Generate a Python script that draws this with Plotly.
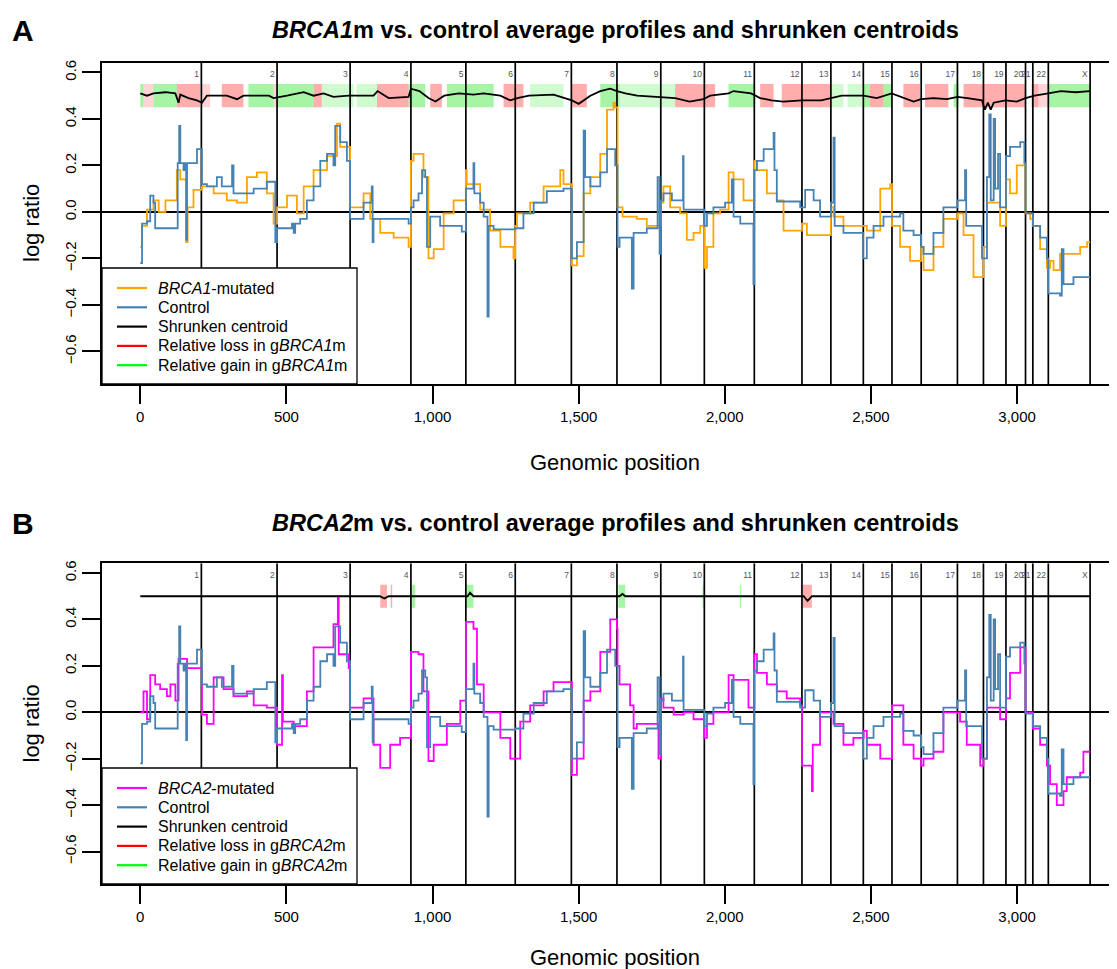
import plotly.graph_objects as go

# ---------------- data ----------------
chrom_names = [str(i) for i in range(1, 23)] + ["X"]
chrom_ends = [209, 468, 718, 926, 1114, 1283, 1475, 1631, 1781, 1930, 2101, 2264,
              2363, 2474, 2572, 2672, 2796, 2885, 2962, 3029, 3054, 3107, 3250]

x_ticks = [0, 500, 1000, 1500, 2000, 2500, 3000]
y_ticks = [-0.6, -0.4, -0.2, 0.0, 0.2, 0.4, 0.6]

ctrl_x = [0, 6, 23, 34, 45, 51, 125, 128, 133, 137, 148, 154, 157, 160, 194, 205, 211, 228, 262, 279,
          314, 319, 388, 433, 456, 462, 468, 519, 525, 530, 547, 570, 593, 616, 639, 661, 667, 684, 707,
          718, 764, 792, 795, 798, 912, 918, 926, 935, 952, 964, 975, 981, 992, 1026, 1100, 1114, 1140,
          1143, 1163, 1175, 1188, 1192, 1209, 1283, 1311, 1346, 1391, 1448, 1477, 1494, 1517, 1522, 1540,
          1574, 1597, 1625, 1633, 1640, 1682, 1688, 1733, 1770, 1777, 1781, 1790, 1819, 1857, 1859, 1930,
          1939, 1961, 2001, 2024, 2030, 2053, 2098, 2101, 2110, 2133, 2167, 2170, 2178, 2258, 2275, 2304,
          2326, 2363, 2372, 2376, 2406, 2473, 2486, 2509, 2543, 2600, 2611, 2646, 2672, 2680, 2714, 2748,
          2796, 2822, 2826, 2874, 2880, 2897, 2905, 2910, 2920, 2925, 2935, 2942, 2962, 2976, 3011, 3025,
          3029, 3054, 3079, 3102, 3107, 3147, 3153, 3159, 3193, 3250]
ctrl_y = [-0.22, -0.05, -0.04, 0.07, 0.04, -0.07, -0.07, 0.21, 0.37, 0.21, 0.18, 0.21, -0.12, 0.21,
          0.27, 0.27, 0.12, 0.11, 0.15, 0.11, 0.20, 0.08, 0.10, 0.13, 0.13, -0.13, -0.07, -0.05, -0.09,
          -0.05, -0.03, 0.05, 0.11, 0.22, 0.25, 0.20, 0.37, 0.30, 0.22, -0.03, 0.04, 0.11, -0.13, -0.03,
          -0.03, -0.05, 0.02, 0.05, 0.08, 0.18, 0.15, -0.15, -0.02, -0.06, -0.085, 0.10, 0.21, 0.08, 0.04,
          -0.02, -0.45, -0.06, -0.075, -0.07, -0.006, 0.04, 0.09, 0.10, -0.20, -0.13, 0.35, 0.15, 0.11,
          0.17, 0.27, 0.20, -0.15, -0.11, -0.33, -0.09, -0.07, 0.15, -0.18, 0.05, 0.08, 0.05, 0.24, 0.01,
          -0.06, -0.006, 0.02, 0.04, 0.14, -0.02, -0.05, -0.31, 0.18, 0.22, 0.27, 0.34, 0.18, 0.045, 0.02,
          0.095, 0.05, -0.02, 0.04, 0.32, -0.06, -0.09, -0.20, -0.11, -0.06, -0.02, -0.006, -0.08, -0.10,
          -0.15, -0.18, -0.09, 0.02, 0.05, 0.18, -0.06, -0.06, -0.20, 0.15, 0.42, 0.05, 0.40, 0.10, 0.25,
          0.02, 0.24, 0.28, 0.30, 0.21, -0.006, -0.06, -0.11, -0.20, -0.35, -0.36, -0.16, -0.31, -0.28,
          -0.28]

brca1_x = [0, 6, 23, 45, 63, 86, 125, 137, 157, 162, 182, 211, 251, 296, 331, 365, 399, 433, 456, 468,
           502, 536, 559, 593, 639, 673, 684, 718, 764, 787, 821, 867, 918, 926, 935, 969, 986, 1004,
           1038, 1072, 1114, 1117, 1163, 1197, 1232, 1277, 1283, 1289, 1334, 1380, 1437, 1448, 1477, 1494,
           1517, 1540, 1574, 1597, 1619, 1625, 1633, 1650, 1699, 1733, 1781, 1790, 1813, 1847, 1870, 1893,
           1916, 1930, 1939, 1961, 1984, 2013, 2030, 2064, 2098, 2101, 2110, 2144, 2178, 2201, 2264, 2281,
           2326, 2363, 2372, 2406, 2473, 2486, 2532, 2566, 2572, 2600, 2634, 2672, 2680, 2714, 2748, 2796,
           2817, 2851, 2885, 2897, 2942, 2962, 2976, 2999, 3029, 3045, 3054, 3079, 3102, 3113, 3125, 3147,
           3216, 3240, 3250]
brca1_y = [-0.15, -0.06, 0.01, 0.05, 0.0, 0.05, 0.18, 0.14, -0.13, 0.02, 0.095, 0.11, 0.08, 0.05, 0.04,
           0.15, 0.17, 0.08, -0.05, 0.02, 0.07, -0.006, 0.11, 0.18, 0.24, 0.38, 0.28, 0.02, 0.08, -0.03,
           -0.09, -0.11, -0.15, 0.22, 0.25, 0.15, -0.20, -0.16, -0.006, 0.05, 0.18, 0.12, 0.01, -0.08,
           -0.15, -0.20, -0.06, -0.006, 0.04, 0.11, 0.18, 0.12, -0.23, -0.19, 0.08, 0.15, 0.25, 0.44, 0.47,
           0.45, 0.02, -0.02, -0.03, -0.06, 0.04, 0.11, 0.02, -0.006, -0.12, -0.09, -0.06, -0.24, -0.15,
           -0.006, 0.01, 0.17, 0.14, 0.05, 0.05, 0.22, 0.18, 0.08, 0.05, -0.08, -0.05, -0.10, -0.10, 0.02,
           -0.02, -0.06, -0.06, -0.08, 0.10, 0.12, -0.06, -0.15, -0.21, -0.15, -0.25, -0.15, -0.03, -0.006,
           -0.10, -0.28, -0.15, 0.04, -0.06, 0.14, 0.08, 0.20, -0.006, -0.03, -0.06, -0.16, -0.24, -0.21,
           -0.25, -0.18, -0.15, -0.13, -0.13]

brca2_x = [0, 11, 23, 34, 51, 68, 91, 103, 120, 131, 160, 211, 228, 251, 285, 319, 365, 388, 433, 468,
           485, 488, 525, 570, 593, 661, 676, 679, 713, 718, 764, 798, 821, 855, 889, 926, 952, 969, 986,
           1004, 1049, 1095, 1114, 1140, 1152, 1175, 1232, 1266, 1283, 1300, 1334, 1380, 1414, 1471, 1477,
           1494, 1517, 1540, 1574, 1608, 1631, 1633, 1640, 1676, 1688, 1699, 1768, 1773, 1781, 1790, 1825,
           1859, 1893, 1930, 1939, 1961, 2013, 2030, 2081, 2101, 2110, 2144, 2178, 2212, 2258, 2264, 2298,
           2301, 2326, 2363, 2372, 2406, 2440, 2475, 2486, 2532, 2566, 2572, 2611, 2646, 2672, 2680, 2714,
           2748, 2796, 2805, 2828, 2874, 2885, 2897, 2942, 2962, 2976, 3011, 3029, 3054, 3079, 3102, 3113,
           3136, 3159, 3170, 3216, 3227, 3250]
brca2_y = [0.0, 0.09, -0.03, 0.16, 0.12, 0.10, 0.07, 0.12, 0.05, 0.23, 0.19, -0.01, -0.05, 0.15, 0.10,
           0.07, 0.09, 0.03, 0.02, -0.14, 0.16, -0.04, -0.06, 0.09, 0.28, 0.38, 0.50, 0.25, 0.19, 0.02,
           0.06, -0.14, -0.24, -0.14, -0.11, 0.26, 0.25, 0.09, -0.21, -0.14, -0.05, 0.05, 0.39, 0.36, 0.12,
           0.0, -0.11, -0.20, -0.20, -0.04, 0.03, 0.09, 0.13, 0.13, -0.27, -0.20, 0.05, 0.09, 0.26, 0.40,
           0.36, 0.20, 0.12, 0.03, -0.07, -0.05, -0.05, -0.20, 0.06, 0.02, -0.01, 0.0, -0.03, -0.11, -0.05,
           0.0, 0.16, 0.14, 0.02, 0.25, 0.17, 0.12, 0.09, 0.06, 0.03, -0.23, -0.34, -0.14, 0.0, 0.0, -0.05,
           -0.14, -0.11, -0.08, -0.14, -0.20, -0.20, 0.03, -0.14, -0.20, -0.23, -0.20, -0.17, 0.0, 0.0,
           -0.04, -0.14, -0.23, -0.20, 0.02, -0.03, 0.06, 0.17, 0.28, 0.0, -0.07, -0.14, -0.23, -0.31,
           -0.40, -0.34, -0.28, -0.26, -0.17, -0.17]

cent1_x = [0, 23, 45, 86, 120, 131, 137, 165, 194, 211, 228, 296, 331, 353, 440, 456, 502, 559, 593,
           627, 661, 713, 798, 812, 850, 918, 926, 955, 986, 1010, 1040, 1090, 1140, 1175, 1232, 1266,
           1290, 1330, 1414, 1450, 1477, 1500, 1540, 1574, 1608, 1631, 1660, 1700, 1780, 1830, 1880, 1927,
           1950, 2013, 2030, 2090, 2121, 2160, 2200, 2264, 2330, 2363, 2400, 2475, 2520, 2571, 2611, 2646,
           2672, 2714, 2760, 2796, 2830, 2880, 2890, 2900, 2910, 2920, 2960, 2999, 3029, 3060, 3107, 3150,
           3200, 3250]
cent1_y = [0.51, 0.50, 0.51, 0.515, 0.51, 0.47, 0.505, 0.49, 0.48, 0.47, 0.50, 0.50, 0.485, 0.50, 0.50,
           0.49, 0.50, 0.515, 0.50, 0.51, 0.495, 0.50, 0.50, 0.52, 0.49, 0.495, 0.53, 0.52, 0.49, 0.475,
           0.50, 0.51, 0.505, 0.51, 0.50, 0.48, 0.49, 0.50, 0.505, 0.49, 0.48, 0.465, 0.50, 0.52, 0.53,
           0.52, 0.51, 0.50, 0.495, 0.49, 0.475, 0.485, 0.50, 0.51, 0.52, 0.51, 0.49, 0.48, 0.475, 0.48,
           0.48, 0.49, 0.50, 0.50, 0.49, 0.51, 0.49, 0.475, 0.485, 0.49, 0.485, 0.495, 0.49, 0.48, 0.44,
           0.47, 0.44, 0.47, 0.48, 0.475, 0.49, 0.50, 0.51, 0.52, 0.515, 0.52]

cent2_x = [0, 820, 835, 850, 1120, 1128, 1140, 1640, 1650, 1660, 2270, 2283, 2298, 3250]
cent2_y = [0.50, 0.50, 0.49, 0.50, 0.50, 0.515, 0.50, 0.50, 0.51, 0.50, 0.50, 0.48, 0.50, 0.50]

# gBRCA1m relative gain / loss clone regions
gain1_start = [0, 45, 370, 467, 918, 1049, 1574, 2013, 2475, 2543, 2783, 3107]
gain1_end = [11, 125, 456, 593, 975, 1209, 1640, 2104, 2497, 2571, 2800, 3250]
faint_gain1_start = [621, 740, 1334, 1640, 2361, 2420]
faint_gain1_end = [730, 810, 1448, 1830, 2406, 2470]
loss1_start = [125, 279, 593, 810, 992, 1243, 1477, 1830, 2121, 2195, 2497, 2611, 2685, 2817, 3050]
loss1_end = [205, 353, 621, 918, 1032, 1311, 1528, 1967, 2167, 2361, 2543, 2668, 2765, 3028, 3073]
faint_loss1_start = [11, 211, 456, 3073]
faint_loss1_end = [45, 239, 467, 3108]

# gBRCA2m relative gain / loss clone regions
gain2_start = [929, 1115, 1636, 1924, 2052]
gain2_end = [941, 1140, 1659, 1928, 2056]
loss2_start = [821, 857, 2266]
loss2_end = [844, 862, 2298]

band_lo, band_hi = 0.45, 0.55
label_y = 0.589

legend_labels_A = ["<i>BRCA1</i>-mutated", "Control", "Shrunken centroid",
                   "Relative loss in g<i>BRCA1</i>m", "Relative gain in g<i>BRCA1</i>m"]
legend_labels_B = ["<i>BRCA2</i>-mutated", "Control", "Shrunken centroid",
                   "Relative loss in g<i>BRCA2</i>m", "Relative gain in g<i>BRCA2</i>m"]

# ---------------- styling ----------------
FONT = "Liberation Sans, Arial, sans-serif"
C_ORANGE = "#FFA500"
C_BLUE = "#4682B4"
C_MAGENTA = "#FF00FF"
C_RED = "#FF0000"
C_GREEN = "#00FF00"
XR = [-131, 3342]
YR = [-0.74, 0.642]
LW = 1.8

# page body has an 8px margin: figure is placed at (8, 8) of the window
OFF = 8
W, H = 1117 - OFF, 969 - OFF


def px(x):
    return (x - OFF) / W


def py(y):
    return 1 - (y - OFF) / H


fig = go.Figure()


def band_trace(starts, ends, color, xa, ya):
    xs, ys = [], []
    for s, e in zip(starts, ends):
        xs += [s, e, e, s, s, None]
        ys += [band_lo, band_lo, band_hi, band_hi, band_lo, None]
    return go.Scatter(x=xs, y=ys, mode="lines", fill="toself", fillcolor=color,
                      line=dict(width=0, color=color), hoverinfo="skip",
                      showlegend=False, xaxis=xa, yaxis=ya)


def vlines(xa, ya):
    xs, ys = [], []
    for b in chrom_ends:
        xs += [b, b, None]
        ys += [YR[0], YR[1], None]
    return go.Scatter(x=xs, y=ys, mode="lines", line=dict(color="black", width=1.7),
                      hoverinfo="skip", showlegend=False, xaxis=xa, yaxis=ya)


panels = [
    dict(xa="x", ya="y", mut_x=brca1_x, mut_y=brca1_y, mut_col=C_ORANGE,
         cx=cent1_x, cy=cent1_y, labels=legend_labels_A, ybot=384,
         bands=[(faint_gain1_start, faint_gain1_end, "rgba(40,230,40,0.22)"),
                (faint_loss1_start, faint_loss1_end, "rgba(255,60,60,0.22)"),
                (gain1_start, gain1_end, "rgba(40,230,40,0.42)"),
                (loss1_start, loss1_end, "rgba(255,60,60,0.42)")]),
    dict(xa="x2", ya="y2", mut_x=brca2_x, mut_y=brca2_y, mut_col=C_MAGENTA,
         cx=cent2_x, cy=cent2_y, labels=legend_labels_B, ybot=884,
         bands=[(gain2_start, gain2_end, "rgba(40,230,40,0.42)"),
                (loss2_start, loss2_end, "rgba(255,60,60,0.42)")]),
]

shapes = []
ann = []

for p in panels:
    xa, ya = p["xa"], p["ya"]
    for s, e, c in p["bands"]:
        fig.add_trace(band_trace(s, e, c, xa, ya))
    fig.add_trace(vlines(xa, ya))
    fig.add_trace(go.Scatter(x=[b - 8 for b in chrom_ends], y=[label_y] * len(chrom_ends),
                             text=chrom_names, mode="text", textposition="middle left",
                             textfont=dict(size=8.5, color="#555555", family=FONT),
                             hoverinfo="skip", showlegend=False, xaxis=xa, yaxis=ya))
    fig.add_trace(go.Scatter(x=p["mut_x"], y=p["mut_y"], mode="lines", line_shape="hv",
                             line=dict(color=p["mut_col"], width=LW), name=p["labels"][0],
                             showlegend=False, xaxis=xa, yaxis=ya))
    fig.add_trace(go.Scatter(x=ctrl_x, y=ctrl_y, mode="lines", line_shape="hv",
                             line=dict(color=C_BLUE, width=LW), name=p["labels"][1],
                             showlegend=False, xaxis=xa, yaxis=ya))
    fig.add_trace(go.Scatter(x=p["cx"], y=p["cy"], mode="lines",
                             line=dict(color="black", width=LW), name=p["labels"][2],
                             showlegend=False, xaxis=xa, yaxis=ya))

    # legend box (R-style), drawn in page coordinates
    yb = p["ybot"]
    shapes.append(dict(type="rect", xref="paper", yref="paper", layer="above",
                       x0=px(102), x1=px(357), y0=py(yb), y1=py(yb - 116),
                       fillcolor="white", line=dict(color="black", width=1.3)))
    cols = [p["mut_col"], C_BLUE, "black", C_RED, C_GREEN]
    for i, (lab, col) in enumerate(zip(p["labels"], cols)):
        ry = yb - 96 + i * 19.3
        shapes.append(dict(type="line", xref="paper", yref="paper", layer="above",
                           x0=px(117), x1=px(147), y0=py(ry), y1=py(ry),
                           line=dict(color=col, width=2.2)))
        ann.append(dict(text=lab, x=px(156), y=py(ry), xref="paper", yref="paper",
                        showarrow=False, xanchor="left", yanchor="middle",
                        font=dict(size=16, family=FONT, color="black")))

xdom = [px(102), 1.0]
ydomA = [py(384), py(62.7)]
ydomB = [py(884), py(563.3)]

axis_common = dict(showgrid=False, showline=True, linecolor="black", linewidth=1.5,
                   ticks="outside", ticklen=18, tickwidth=1.5, tickcolor="black",
                   tickfont=dict(family=FONT, size=15, color="black"), automargin=False)

xa_common = dict(axis_common, range=XR, domain=xdom, tickvals=x_ticks, tickformat=",",
                 mirror=True, zeroline=False)
ya_common = dict(axis_common, range=YR, tickvals=y_ticks, tickformat=".1f", tickangle=-90,
                 zeroline=True, zerolinecolor="black", zerolinewidth=1.6)

fig.update_layout(
    width=W, height=H, margin=dict(l=0, r=0, t=0, b=0),
    paper_bgcolor="white", plot_bgcolor="white",
    font=dict(family=FONT, color="black"),
    showlegend=False,
    xaxis=dict(xa_common, anchor="y"),
    yaxis=dict(ya_common, domain=ydomA, anchor="x"),
    xaxis2=dict(xa_common, anchor="y2"),
    yaxis2=dict(ya_common, domain=ydomB, anchor="x2"),
)

cx = px((102 + 1128) / 2)
for letter, gene, ty, ly, gy in [("A", "BRCA1", 30, 223, 462), ("B", "BRCA2", 523, 723.5, 957)]:
    ann.append(dict(text="<b>%s</b>" % letter, x=px(23), y=py(ty), xref="paper", yref="paper",
                    showarrow=False, font=dict(size=30, family=FONT), xanchor="center", yanchor="middle"))
    ann.append(dict(text="<b><i>%s</i>m vs. control average profiles and shrunken centroids</b>" % gene,
                    x=cx, y=py(ty), xref="paper", yref="paper", showarrow=False,
                    font=dict(size=23.5, family=FONT), xanchor="center", yanchor="middle"))
    ann.append(dict(text="log ratio", x=px(31), y=py(ly), xref="paper", yref="paper",
                    showarrow=False, textangle=-90, font=dict(size=22, family=FONT),
                    xanchor="center", yanchor="middle"))
    ann.append(dict(text="Genomic position", x=cx, y=py(gy), xref="paper", yref="paper",
                    showarrow=False, font=dict(size=22, family=FONT), xanchor="center", yanchor="middle"))
fig.update_layout(annotations=ann, shapes=shapes)

fig.write_html("out.html")
